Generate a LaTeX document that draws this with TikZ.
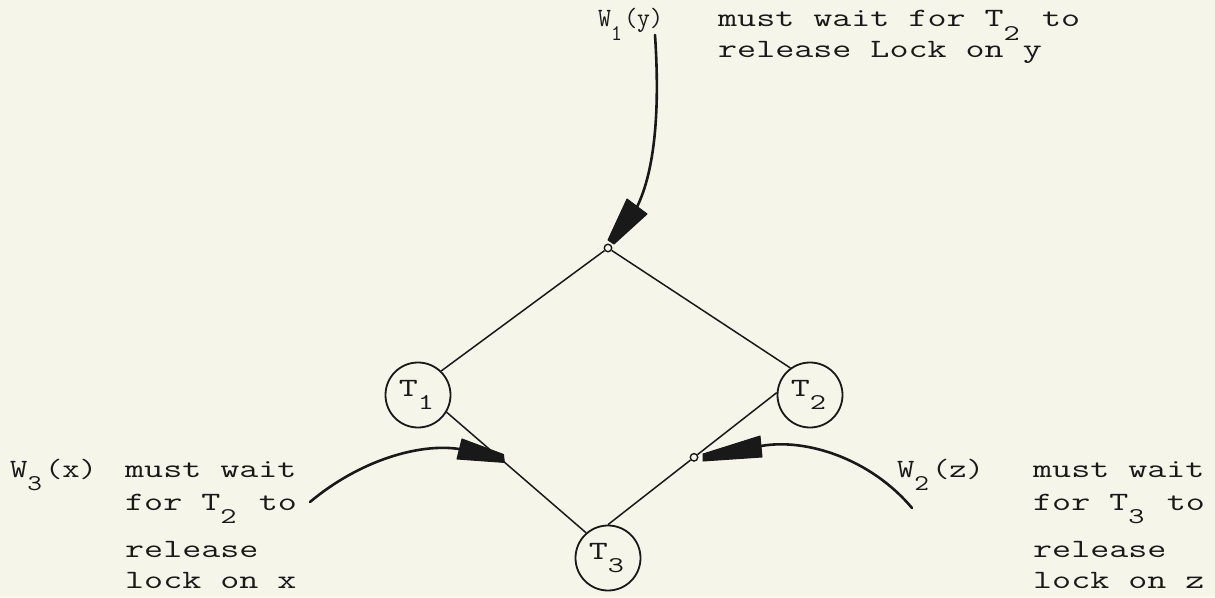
\documentclass[tikz,border=0pt]{standalone}
\usepackage{graphicx}
\usetikzlibrary{calc}
\definecolor{paper}{RGB}{246,245,233}
\definecolor{ink}{RGB}{25,25,25}
% typewriter lettering: wide glyphs on a fixed pitch
\newcommand\tw[1]{\scalebox{1.4}[1]{#1}}
\newcommand\twl[1]{\scalebox{1.27}[1]{#1}}
\newcommand\tws[1]{\scalebox{0.95}[1]{#1}}
% typed subscript: one character cell, dropped below the line
\newcommand\dn[1]{\makebox[0.525em][l]{\raisebox{-0.5em}{\scalebox{0.85}{#1}}}}
\begin{document}
\begin{tikzpicture}[x=1pt,y=-1pt,
  txt/.style={anchor=base west, inner sep=0pt, text=ink,
              font=\fontsize{26.4}{30}\selectfont\ttfamily},
  tnode/.style={circle, draw=ink, line width=1.8pt, minimum size=65pt,
                inner sep=0pt, text=ink, font=\fontsize{26.4}{30}\selectfont\ttfamily},
  link/.style={draw=ink, line width=1.5pt},
  waitline/.style={draw=ink, line width=2.6pt, line cap=round},
  dart/.style={fill=ink, draw=ink, line width=1pt, line join=round},
  knot/.style={circle, draw=ink, fill=paper, line width=1.4pt,
               minimum size=7.5pt, inner sep=0pt}]

% sheet
\fill[paper] (0,0) rectangle (1215,597);
\useasboundingbox (0,0) rectangle (1215,597);

% transactions
\node[tnode] (T1) at (418,395) {\tw{T\dn{1}}};
\node[tnode] (T2) at (810,395) {\tw{T\dn{2}}};
\node[tnode] (T3) at (608,558) {\tw{T\dn{3}}};

% wait-for graph edges
\node[knot] (apex) at (608,248) {};
\draw[link] (apex) -- (T1.46);
\draw[link] (apex) -- (T2.126);
\draw[link] (T1.-31) -- (T3.131);
\node[knot] (join) at ($(T2.176)!0.49!(T3.90)$) {};
\draw[link] (T2.176) -- (join);
\draw[link] (join) -- (T3.90);
\coordinate (hitx) at ($(T1.-31)!0.4!(T3.131)$);

% W1(y) pointer onto the top vertex
\coordinate (w1end) at (655,35);
\coordinate (w1dart) at (637,207);
\draw[waitline] (w1end) .. controls (660,110) and (655,170) .. (w1dart);
\fill[dart] (627,199) -- (647,214) -- (614,244) -- (608,240) -- cycle;

% W3(x) pointer onto edge T1--T3
\coordinate (w3end) at (310,502);
\coordinate (w3dart) at (459,449);
\draw[waitline] (w3end) .. controls (360,460) and (420,443) .. (w3dart);
\fill[dart] (462,439) -- ($(hitx)+(1,-6)$) -- ($(hitx)+(2,2)$) -- (457,459) -- cycle;

% W2(z) pointer onto edge T2--T3
\coordinate (w2end) at (912,508);
\coordinate (w2dart) at (761,446);
\draw[waitline] (w2end) .. controls (870,458) and (805,438) .. (w2dart);
\fill[dart] (760,436) -- (703,454) -- (703,461) -- (762,457) -- cycle;

% annotations
\node[txt] (w1lab) at (598,27) {\tws{W\dn{1}(y)}};
\node[txt] (w1a) at (718,27) {\tw{must wait for T\dn{2} to}};
\node[txt] (w1b) at (718,57) {\tw{release Lock on y}};

\node[txt] (w3lab) at (10,477) {\twl{W\dn{3}(x)}};
\node[txt] (w3a) at (125,477) {\tw{must wait}};
\node[txt] (w3b) at (125,510) {\tw{for T\dn{2} to}};
\node[txt] (w3c) at (125,557) {\tw{release}};
\node[txt] (w3d) at (125,588) {\tw{lock on x}};

\node[txt] (w2lab) at (897,477) {\twl{W\dn{2}(z)}};
\node[txt] (w2a) at (1033,477) {\tw{must wait}};
\node[txt] (w2b) at (1033,510) {\tw{for T\dn{3} to}};
\node[txt] (w2c) at (1033,557) {\tw{release}};
\node[txt] (w2d) at (1033,588) {\tw{lock on z}};
\end{tikzpicture}
\end{document}
